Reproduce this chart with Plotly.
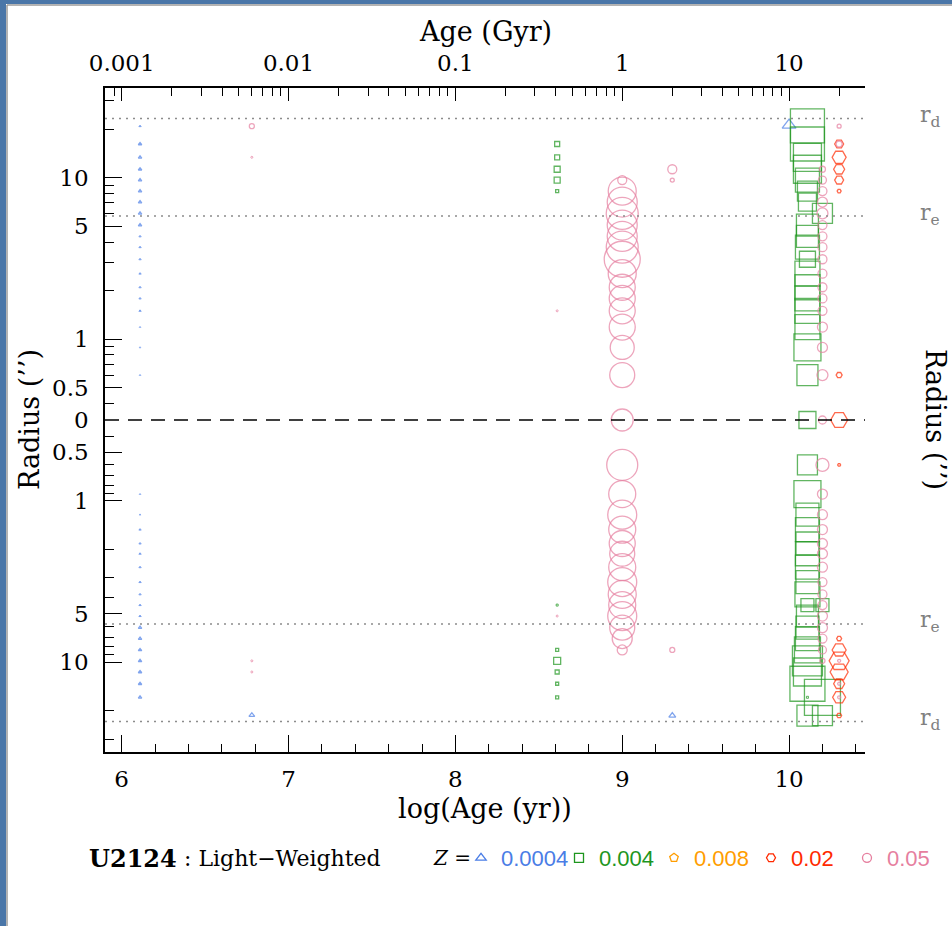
import numpy as np
import plotly.graph_objects as go

W, H = 952, 926
PL, PR, PT, PB = 105, 865, 88, 752

XMIN, XMAX = 5.9, 10.455
R0 = 10 ** -0.5          # radius where the centre (r = 0) is drawn
RMAX = 36.0
R_E = 5.8
R_D = 23.3

# ---------------- data (signed radius: + upper side, - lower side, 0 centre) -------------
# Z = 0.0004
B_AGE = [6.11, 6.11, 6.11, 6.11, 6.11, 6.11, 6.11, 6.11, 6.11, 6.11, 6.11, 6.11, 6.11, 6.11, 6.11, 6.11, 6.11, 6.11, 6.11,
         6.11, 6.11, 6.11, 6.11, 6.11, 6.11, 6.11, 6.11, 6.11, 6.11, 6.11, 6.11, 6.11, 6.11, 6.11, 6.11, 6.11,
         10.0, 6.78, 9.3]
B_RAD = [20.9, 16.2, 13.4, 11.3, 9.68, 8.28, 7.08, 6.02, 5.1, 4.34, 3.72, 3.13, 2.55, 2.10, 1.79, 1.50, 1.19, 0.89, 0.60,
         -0.91, -1.22, -1.51, -1.84, -2.13, -2.58, -3.19, -3.8, -4.43, -5.18, -6.11, -7.14, -8.4, -9.81, -11.5, -13.6, -16.5,
         21.2, -21.3, -21.4]
B_SIZE = [2, 3, 3, 3, 3, 3, 3, 3, 3, 2, 2, 2, 2, 2, 2, 2, 1.5, 1.5, 1.5,
          1.5, 1.5, 2, 2, 2, 2, 2, 2, 2, 2, 3, 3, 3, 3, 3, 3, 3,
          12, 5, 6]

# Z = 0.004
G_AGE = [8.61, 8.61, 8.61, 8.61, 8.61,
         8.61, 8.61, 8.61, 8.61, 8.61, 8.61,
         10.11, 10.11, 10.11, 10.11, 10.11, 10.11, 10.11, 10.11, 10.11, 10.11, 10.11, 10.11, 10.11, 10.11, 10.11, 10.11, 10.11, 10.11,
         10.2, 10.11,
         10.11, 10.11, 10.11, 10.11, 10.11, 10.11, 10.11, 10.11, 10.11, 10.11, 10.11, 10.11, 10.11, 10.11, 10.11, 10.11, 10.11, 10.11, 10.11,
         10.2, 10.2, 10.2]
G_RAD = [16.2, 13.4, 11.3, 9.68, 8.28,
         -4.43, -8.4, -9.81, -11.5, -13.6, -16.5,
         21.0, 16.2, 13.4, 11.3, 9.68, 8.28, 7.08, 5.1, 4.34, 3.72, 3.13, 2.55, 2.10, 1.79, 1.50, 1.19, 0.89, 0.60,
         6.02, 0.0,
         -0.6, -0.91, -1.22, -1.51, -1.84, -2.13, -2.58, -3.19, -3.8, -4.43, -5.18, -6.11, -7.14, -8.4, -9.81, -11.5, -13.6, -16.5, -21.4,
         -4.43, -16.5, -21.4]
G_SIZE = [5, 5, 6, 6, 3,
          2, 3, 7, 4, 3, 3,
          34, 34, 28, 28, 24, 20, 18, 22, 22, 24, 16, 25, 25, 25, 25, 25, 27, 21,
          20, 17,
          20, 27, 23, 24, 23, 24, 24, 23, 25, 13, 22, 23, 24, 26, 30, 28, 35, 2, 21,
          13, 36, 20]

# Z = 0.008 (no components)
O_AGE = []
O_RAD = []
O_SIZE = []

# Z = 0.02
R_AGE = [10.3, 10.3, 10.3, 10.3, 10.3, 10.3, 10.3, 10.3, 10.3, 10.3, 10.3, 10.3, 10.3, 10.3, 10.3]
R_RAD = [16.2, 13.4, 11.3, 9.68, 8.28, 0.6, 0.0, -0.6, -7.14, -8.4, -9.81, -11.5, -13.6, -16.5, -21.4]
R_SIZE = [9, 14, 11, 9, 4, 6, 17, 3, 5, 14, 20, 18, 11, 13, 5]

# Z = 0.05
P_AGE = [6.78, 6.78, 6.78, 6.78,
         8.61, 8.61,
         9.0, 9.0, 9.0, 9.0, 9.0, 9.0, 9.0, 9.0, 9.0, 9.0, 9.0, 9.0, 9.0, 9.0, 9.0,
         9.0,
         9.0, 9.0, 9.0, 9.0, 9.0, 9.0, 9.0, 9.0, 9.0, 9.0, 9.0, 9.0, 9.0, 9.0,
         9.3, 9.3, 9.3,
         10.2, 10.2, 10.2, 10.2, 10.2, 10.2, 10.2, 10.2, 10.2, 10.2, 10.2, 10.2, 10.2, 10.2, 10.2, 10.2,
         10.2,
         10.2, 10.2, 10.2, 10.2, 10.2, 10.2, 10.2, 10.2, 10.2, 10.2, 10.2, 10.2, 10.2, 10.2, 10.2,
         10.3, 10.3, 10.3, 10.3, 10.3]
P_RAD = [20.9, 13.4, -9.81, -11.5,
         1.5, -5.18,
         9.68, 8.28, 7.08, 6.02, 5.1, 4.34, 3.72, 3.13, 2.55, 2.10, 1.79, 1.50, 1.19, 0.89, 0.60,
         0.0,
         -0.6, -0.91, -1.22, -1.51, -1.84, -2.13, -2.58, -3.19, -3.8, -4.43, -5.18, -6.11, -7.14, -8.4,
         11.3, 9.68, -8.4,
         11.3, 9.68, 8.28, 7.08, 6.02, 5.1, 4.34, 3.72, 3.13, 2.55, 2.10, 1.79, 1.50, 1.19, 0.89, 0.60,
         0.0,
         -0.6, -0.91, -1.22, -1.51, -1.84, -2.13, -2.58, -3.19, -3.8, -4.43, -5.18, -6.11, -7.14, -8.4, -9.81,
         20.9, 16.2, -9.81, -13.6, -16.5]
P_SIZE = [5, 2, 2, 2,
          2, 2,
          9, 28, 30, 32, 30, 30, 32, 36, 28, 26, 26, 26, 26, 24, 25,
          22,
          31, 27, 29, 27, 26, 25, 27, 29, 28, 27, 29, 25, 20, 10,
          9, 4, 5,
          6, 8, 9, 10, 11, 9, 9, 9, 9, 9, 9, 9, 9, 10, 10, 11,
          8,
          13, 10, 10, 10, 10, 10, 10, 9, 9, 9, 10, 10, 9, 8, 5,
          4, 6, 3, 3, 3]

SERIES = [
    ("0.0004", "#4a7de6", "triangle-up-open", B_AGE, B_RAD, B_SIZE),
    ("0.004", "#1e961e", "square-open", G_AGE, G_RAD, G_SIZE),
    ("0.008", "#ff9d00", "pentagon-open", O_AGE, O_RAD, O_SIZE),
    ("0.02", "#ff2a00", "hexagon2-open", R_AGE, R_RAD, R_SIZE),
    ("0.05", "#e67f9f", "circle-open", P_AGE, P_RAD, P_SIZE),
]

TICK_R = [0.5, 1, 5, 10]
MINOR_R = [0.4, 0.6, 0.7, 0.8, 0.9, 2, 3, 4, 6, 7, 8, 9, 20, 30]
AGE_TICKS = [6, 7, 8, 9, 10]
GYR_LABELS = ["0.001", "0.01", "0.1", "1", "10"]

# ---------------------------------------------------------------------------------------
def px_x(p):
    return (p - PL) / (PR - PL)


def px_y(p):
    return (PB - p) / (PB - PT)


SERIF = "DejaVu Serif"
SANS = "Liberation Sans"

fig = go.Figure()

for name, col, sym, ages, rads, sizes in SERIES:
    ages = np.asarray(ages, float)
    rads = np.asarray(rads, float)
    sizes = np.asarray(sizes, float)
    up = rads >= 0
    lo = rads < 0
    yup = np.where(rads[up] == 0, R0, rads[up])
    common = dict(mode="markers", showlegend=False, hoverinfo="skip", cliponaxis=False)
    if up.any():
        lw = np.minimum(1.3, 0.5 * sizes[up])
        fig.add_trace(go.Scatter(x=ages[up], y=yup, xaxis="x", yaxis="y",
                                 marker=dict(symbol=sym, size=sizes[up], color=col,
                                             line=dict(color=col, width=lw)), **common))
    if lo.any():
        lw = np.minimum(1.3, 0.5 * sizes[lo])
        fig.add_trace(go.Scatter(x=ages[lo], y=-rads[lo], xaxis="x2", yaxis="y2",
                                 marker=dict(symbol=sym, size=sizes[lo], color=col,
                                             line=dict(color=col, width=lw)), **common))

# r_e and r_d reference lines (both sides)
for rr in (R_E, R_D):
    for xa, ya in (("x", "y"), ("x2", "y2")):
        fig.add_trace(go.Scatter(x=[XMIN, XMAX], y=[rr, rr], xaxis=xa, yaxis=ya, mode="lines",
                                 line=dict(color="#8c8c8c", width=1.4, dash="2px,5px"),
                                 showlegend=False, hoverinfo="skip"))

# legend entries, one legend box per metallicity
LEG_X = [483, 581, 676, 773, 869]
for i, (name, col, sym, *_rest) in enumerate(SERIES):
    lname = "legend" if i == 0 else f"legend{i + 1}"
    fig.add_trace(go.Scatter(x=[None], y=[None], xaxis="x", yaxis="y", mode="markers", name=name,
                             legend=lname,
                             marker=dict(symbol=sym, size=9, color=col, line=dict(color=col, width=1.3))))

tickfont = dict(family=SERIF, size=23, color="black")
axis_common = dict(showgrid=False, zeroline=False, showline=True, linecolor="black", linewidth=1.5,
                   ticks="inside", tickcolor="black", tickwidth=1.3, tickfont=tickfont)

y_top = dict(axis_common, type="log", range=[np.log10(R0), np.log10(RMAX)],
             tickmode="array", tickvals=TICK_R + [R0], ticktext=[str(v) for v in TICK_R] + ["0"],
             ticklen=17, minor=dict(tickmode="array", tickvals=MINOR_R, ticklen=9, ticks="inside",
                                    tickcolor="black", tickwidth=1.3),
             ticklabelstandoff=10)
y_bot = dict(axis_common, type="log", range=[np.log10(RMAX), np.log10(R0)],
             tickmode="array", tickvals=TICK_R, ticktext=[str(v) for v in TICK_R],
             ticklen=17, minor=dict(tickmode="array", tickvals=MINOR_R, ticklen=9, ticks="inside",
                                    tickcolor="black", tickwidth=1.3),
             ticklabelstandoff=10)

gyr_minor = [d + np.log10(k) for d in range(5, 11) for k in range(2, 10)]
gyr_minor = [v for v in gyr_minor if XMIN < v < XMAX]
bot_minor = [round(v, 1) for v in np.arange(6.0, 10.45, 0.2)]

fig.update_layout(
    width=W, height=H, paper_bgcolor="white", plot_bgcolor="white",
    margin=dict(l=PL, r=W - PR, t=PT, b=H - PB),
    xaxis=dict(axis_common, domain=[0, 1], anchor="y", side="top", range=[XMIN, XMAX],
               tickmode="array", tickvals=AGE_TICKS, ticktext=GYR_LABELS, ticklen=13,
               minor=dict(tickmode="array", tickvals=gyr_minor, ticklen=8, ticks="inside",
                          tickcolor="black", tickwidth=1.3),
               ticklabelstandoff=6),
    xaxis2=dict(axis_common, domain=[0, 1], anchor="y2", side="bottom", range=[XMIN, XMAX],
                tickmode="array", tickvals=AGE_TICKS, ticktext=[str(v) for v in AGE_TICKS], ticklen=17,
                minor=dict(tickmode="array", tickvals=bot_minor, ticklen=8, ticks="inside",
                           tickcolor="black", tickwidth=1.3),
                ticklabelstandoff=6),
    yaxis=dict(y_top, domain=[0.5, 1], anchor="x", side="left"),
    yaxis2=dict(y_bot, domain=[0, 0.5], anchor="x2", side="left"),
    yaxis3=dict(y_top, overlaying="y", anchor="x", side="right"),
    yaxis4=dict(y_bot, overlaying="y2", anchor="x2", side="right"),
)

# legends
for i, (name, col, *_r) in enumerate(SERIES):
    lname = "legend" if i == 0 else f"legend{i + 1}"
    fig.layout[lname] = dict(x=px_x(LEG_X[i] - 22), y=px_y(858), xanchor="left", yanchor="middle",
                             orientation="h", bgcolor="rgba(0,0,0,0)", borderwidth=0,
                             font=dict(family=SANS, size=22, color=col), itemwidth=30,
                             tracegroupgap=0)

# zero line
fig.add_shape(type="line", xref="paper", yref="paper", x0=0, x1=1, y0=0.5, y1=0.5,
              line=dict(color="black", width=1.5, dash="14px,9px"))

# window frame
fig.add_shape(type="rect", xref="paper", yref="paper", x0=px_x(0), x1=px_x(6), y0=px_y(H), y1=px_y(0),
              fillcolor="#4a76a8", line=dict(width=0), layer="above")
fig.add_shape(type="rect", xref="paper", yref="paper", x0=px_x(0), x1=px_x(W), y0=px_y(4), y1=px_y(0),
              fillcolor="#4a76a8", line=dict(width=0), layer="above")
fig.add_shape(type="line", xref="paper", yref="paper", x0=px_x(7), x1=px_x(7), y0=px_y(H), y1=px_y(5),
              line=dict(color="#9a9a9a", width=1.5))
fig.add_shape(type="line", xref="paper", yref="paper", x0=px_x(7), x1=px_x(W), y0=px_y(5), y1=px_y(5),
              line=dict(color="#9a9a9a", width=1.5))

ann = []
title_font = dict(family=SERIF, size=27, color="black")
ann.append(dict(text="Age (Gyr)", x=px_x(485), y=px_y(31), font=title_font))
ann.append(dict(text="log(Age (yr))", x=px_x(485), y=px_y(808), font=title_font))
ann.append(dict(text="Radius (’’)", x=px_x(29), y=px_y(420), textangle=-90, font=title_font))
ann.append(dict(text="Radius (’’)", x=px_x(936), y=px_y(420), textangle=90, font=title_font))
gray_font = dict(family=SERIF, size=22, color="#808080")
for lab, rr in (("r<sub>d</sub>", R_D), ("r<sub>e</sub>", R_E)):
    ann.append(dict(text=lab, x=px_x(930), y=np.log10(rr), yref="y", font=gray_font, yshift=2))
    ann.append(dict(text=lab, x=px_x(930), y=np.log10(rr), yref="y2", font=gray_font, yshift=2))
ann.append(dict(text="<b>U2124</b>", x=px_x(87), y=px_y(858), xanchor="left",
                font=dict(family=SERIF, size=24, color="black")))
ann.append(dict(text=": Light−Weighted", x=px_x(182), y=px_y(858), xanchor="left",
                font=dict(family=SERIF, size=22, color="black")))
ann.append(dict(text="<i>Z</i> =", x=px_x(431), y=px_y(858), xanchor="left",
                font=dict(family=SERIF, size=20, color="black")))
for a in ann:
    a.setdefault("xref", "paper")
    a.setdefault("yref", "paper")
    a.setdefault("showarrow", False)
    a.setdefault("xanchor", "center")
    a.setdefault("yanchor", "middle")
    fig.add_annotation(**a)

fig.write_html("out.html")
